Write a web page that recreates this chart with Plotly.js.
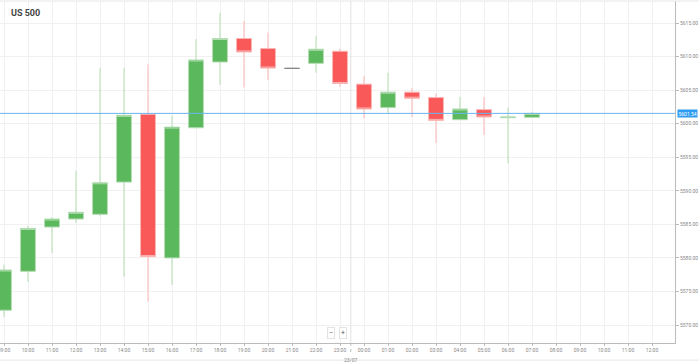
<!DOCTYPE html>
<html>
<head>
<meta charset="utf-8">
<script src="https://cdn.plot.ly/plotly-3.0.1.min.js"></script>
<style>
html,body{margin:0;padding:0;background:#fff;}
#chart{width:699px;height:362px;}
</style>
</head>
<body>
<div id="chart"></div>
<script>
const times = ['2024-07-22 09:00','2024-07-22 10:00','2024-07-22 11:00','2024-07-22 12:00','2024-07-22 13:00','2024-07-22 14:00','2024-07-22 15:00','2024-07-22 16:00','2024-07-22 17:00','2024-07-22 18:00','2024-07-22 19:00','2024-07-22 20:00','2024-07-22 21:00','2024-07-22 22:00','2024-07-22 23:00','2024-07-23 00:00','2024-07-23 01:00','2024-07-23 02:00','2024-07-23 03:00','2024-07-23 04:00','2024-07-23 05:00','2024-07-23 06:00','2024-07-23 07:00'];
const openP  = [5572.2,5578.0,5584.6,5585.8,5586.5,5591.3,5601.4,5580.0,5599.4,5609.2,5612.7,5611.2,5608.25,5609.0,5610.8,5605.9,5602.4,5604.7,5603.9,5600.6,5602.1,5600.9,5600.95];
const highP  = [5579.0,5584.8,5586.1,5593.0,5608.3,5608.3,5608.85,5601.25,5612.6,5616.5,5615.3,5613.6,5608.25,5613.1,5611.2,5607.1,5607.6,5605.3,5604.5,5604.0,5604.0,5602.4,5601.8];
const lowP   = [5571.2,5576.4,5580.7,5585.2,5586.2,5577.2,5573.5,5576.0,5599.3,5605.8,5605.4,5606.5,5608.25,5607.6,5605.5,5600.8,5601.55,5601.0,5597.1,5600.6,5598.3,5594.1,5600.95];
const closeP = [5578.2,5584.4,5585.8,5586.8,5591.2,5601.25,5580.2,5599.5,5609.5,5612.7,5610.7,5608.3,5608.25,5611.1,5606.0,5602.2,5604.7,5603.8,5600.5,5602.2,5601.0,5601.0,5601.54];

const lastPrice = 5601.54;
const instrument = 'US 500';
const dateLabel = '23/07';
const daySeparator = '2024-07-22 23:27';

const xTickVals = ['2024-07-22 09:00','2024-07-22 10:00','2024-07-22 11:00','2024-07-22 12:00','2024-07-22 13:00','2024-07-22 14:00','2024-07-22 15:00','2024-07-22 16:00','2024-07-22 17:00','2024-07-22 18:00','2024-07-22 19:00','2024-07-22 20:00','2024-07-22 21:00','2024-07-22 22:00','2024-07-22 23:00','2024-07-23 00:00','2024-07-23 01:00','2024-07-23 02:00','2024-07-23 03:00','2024-07-23 04:00','2024-07-23 05:00','2024-07-23 06:00','2024-07-23 07:00','2024-07-23 08:00','2024-07-23 09:00','2024-07-23 10:00','2024-07-23 11:00','2024-07-23 12:00'];
const xTickText = ['09:00','10:00','11:00','12:00','13:00','14:00','15:00','16:00','17:00','18:00','19:00','20:00','21:00','22:00','23:00','00:00','01:00','02:00','03:00','04:00','05:00','06:00','07:00','08:00','09:00','10:00','11:00','12:00'];
const yTickVals = [5570,5575,5580,5585,5590,5595,5600,5605,5610,5615];

const mainIdx = [], dojiIdx = [];
openP.forEach((o,i)=>{ (o === closeP[i] ? dojiIdx : mainIdx).push(i); });
const pick = (arr, idx) => idx.map(i => arr[i]);

const main = {
  type:'candlestick',
  x: pick(times, mainIdx), open: pick(openP, mainIdx), high: pick(highP, mainIdx),
  low: pick(lowP, mainIdx), close: pick(closeP, mainIdx),
  increasing:{fillcolor:'#5cb85c', line:{color:'#b2ddb2', width:1}},
  decreasing:{fillcolor:'#f95959', line:{color:'#fbb4b4', width:1}},
  whiskerwidth:0, showlegend:false, hoverinfo:'skip'
};
const doji = {
  type:'candlestick',
  x: pick(times, dojiIdx), open: pick(openP, dojiIdx), high: pick(highP, dojiIdx),
  low: pick(lowP, dojiIdx), close: pick(closeP, dojiIdx),
  increasing:{fillcolor:'#888', line:{color:'#888', width:1}},
  decreasing:{fillcolor:'#888', line:{color:'#888', width:1}},
  whiskerwidth:0, showlegend:false, hoverinfo:'skip'
};

const layout = {
  width:699, height:362,
  margin:{l:0, r:24, t:1, b:19},
  paper_bgcolor:'#fff', plot_bgcolor:'#fff',
  boxgap:0.38, boxgroupgap:0,
  font:{family:'Roboto, sans-serif', color:'#888', size:5},
  xaxis:{
    type:'date', range:['2024-07-22 08:50','2024-07-23 12:57:30'],
    rangeslider:{visible:false},
    tickmode:'array', tickvals:xTickVals, ticktext:xTickText,
    ticklabeloverflow:'allow',
    showgrid:true, gridcolor:'#f1f1f1', gridwidth:1,
    showline:true, linecolor:'#bbb', linewidth:1,
    ticks:'outside', ticklen:2, tickcolor:'#bbb',
    tickfont:{size:5, color:'#888'}, zeroline:false, fixedrange:true
  },
  yaxis:{
    side:'right', range:[5567.32, 5618.29],
    tickmode:'array', tickvals:yTickVals, tickformat:'.2f',
    showgrid:true, gridcolor:'#f1f1f1', gridwidth:1,
    showline:true, linecolor:'#bbb', linewidth:1,
    ticks:'outside', ticklen:3, tickcolor:'#bbb',
    tickfont:{size:5, color:'#888'}, zeroline:false, fixedrange:true
  },
  shapes:[
    {type:'line', xref:'paper', yref:'paper', x0:0, x1:1.035, y0:1, y1:1, line:{color:'#e6e6e6', width:1}},
    {type:'line', xref:'paper', yref:'paper', x0:0, x1:1.035, y0:-0.05, y1:-0.05, line:{color:'#e6e6e6', width:1}},
    {type:'line', xref:'x', yref:'paper', x0:daySeparator, x1:daySeparator, y0:0, y1:1, line:{color:'#e2e2e2', width:1}},
    {type:'line', xref:'x', yref:'paper', x0:daySeparator, x1:daySeparator, y0:-0.026, y1:0, line:{color:'#bbb', width:1, dash:'dot'}},
    {type:'line', xref:'paper', yref:'y', x0:0, x1:1, y0:lastPrice, y1:lastPrice, line:{color:'#68b6f0', width:1}}
  ],
  annotations:[
    {xref:'paper', yref:'paper', x:0.013, y:0.985, xanchor:'left', yanchor:'top', text:'<b>'+instrument+'</b>', showarrow:false, font:{size:9, color:'#444', family:'Roboto, sans-serif'}},
    {xref:'paper', yref:'y', x:1.003, y:lastPrice, xanchor:'left', yanchor:'middle', text:lastPrice.toFixed(2), showarrow:false, bgcolor:'#2f9cf0', borderpad:0.5, font:{size:5, color:'#fff'}},
    {xref:'x', yref:'paper', x:daySeparator, y:-0.05, xanchor:'center', yanchor:'middle', text:dateLabel, showarrow:false, font:{size:5, color:'#888'}},
    {xref:'paper', yref:'paper', x:0.49, y:0.028, xanchor:'center', yanchor:'middle', text:'−', showarrow:false, bgcolor:'#fff', bordercolor:'#e3e3e3', borderwidth:1, borderpad:1, font:{size:7, color:'#555'}},
    {xref:'paper', yref:'paper', x:0.508, y:0.028, xanchor:'center', yanchor:'middle', text:'+', showarrow:false, bgcolor:'#fff', bordercolor:'#e3e3e3', borderwidth:1, borderpad:1, font:{size:7, color:'#555'}}
  ]
};

Plotly.newPlot('chart', [main, doji], layout, {displayModeBar:false, staticPlot:true});
</script>
</body>
</html>
